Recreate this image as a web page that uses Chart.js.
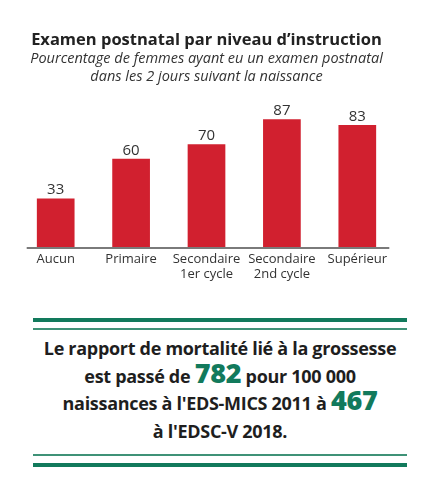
<!DOCTYPE html>
<html>
<head>
<meta charset="utf-8">
<script src="https://cdn.jsdelivr.net/npm/chart.js@4"></script>
<style>
  body { margin: 0; background: #fff; width: 437px; height: 495px; font-family: "Open Sans", sans-serif; }
  #wrap { position: absolute; left: 0; top: 30px; width: 437px; height: 257px; }
  .box { position: absolute; left: 33px; width: 374px; top: 318px; }
  .ligne { height: 4px; background: #127a5c; }
  .fine { height: 2px; background: #3f9277; }
  .texte { text-align: center; font-weight: bold; color: #1e1e1e; font-size: 18px; line-height: 27.5px; letter-spacing: -0.3px; padding: 5px 0 9px; white-space: nowrap; margin: 0 -20px; }
  .texte b { color: #127a5c; font-size: 27px; line-height: 1px; }
</style>
</head>
<body>
<div id="wrap"><canvas id="graphique"></canvas></div>
<div class="box">
  <div class="ligne"></div>
  <div class="fine" style="margin-top:6px"></div>
  <div class="texte">Le rapport de mortalité lié à la grossesse<br>est passé de <b>782</b> pour 100 000<br>naissances à l'EDS-MICS 2011 à <b>467</b><br>à l'EDSC-V 2018.</div>
  <div class="fine"></div>
  <div class="ligne" style="margin-top:7px"></div>
</div>
<script>
const niveaux = ['Aucun', 'Primaire', ['Secondaire', '1er cycle'], ['Secondaire', '2nd cycle'], 'Supérieur'];
const pourcentages = [33, 60, 70, 87, 83];
const titre = 'Examen postnatal par niveau d\u2019instruction';
const sousTitre = ['Pourcentage de femmes ayant eu un examen postnatal', 'dans les 2 jours suivant la naissance'];

// valeurs au-dessus des barres + ligne de base grise
const etiquettes = {
  id: 'etiquettes',
  afterDatasetsDraw(chart) {
    const ctx = chart.ctx;
    const meta = chart.getDatasetMeta(0);
    ctx.save();
    ctx.fillStyle = '#333';
    ctx.font = '15px "Open Sans"';
    ctx.textAlign = 'center';
    ctx.textBaseline = 'bottom';
    meta.data.forEach((bar, i) => {
      ctx.fillText(pourcentages[i], bar.x, bar.y - 1);
    });
    const x = chart.scales.x;
    const y0 = chart.scales.y.getPixelForValue(0);
    ctx.strokeStyle = '#7a7a7a';
    ctx.lineWidth = 2;
    ctx.beginPath();
    ctx.moveTo(x.getPixelForValue(0) - 29, y0 + 1);
    ctx.lineTo(x.getPixelForValue(4) + 32, y0 + 1);
    ctx.stroke();
    ctx.restore();
  }
};

new Chart(document.getElementById('graphique'), {
  type: 'bar',
  data: {
    labels: niveaux,
    datasets: [{
      data: pourcentages,
      backgroundColor: '#d1202f',
      barPercentage: 0.5,
      categoryPercentage: 1
    }]
  },
  options: {
    responsive: true,
    maintainAspectRatio: false,
    animation: false,
    layout: { padding: { left: 18, right: 42, top: 0, bottom: 0 } },
    plugins: {
      legend: { display: false },
      tooltip: { enabled: false },
      title: {
        display: true,
        text: titre,
        color: '#222',
        font: { family: 'Open Sans', size: 16.5, weight: 'bold' },
        padding: { top: 0, bottom: 0 }
      },
      subtitle: {
        display: true,
        text: sousTitre,
        color: '#333',
        font: { family: 'Open Sans', size: 14.5, style: 'italic', lineHeight: 1.25 },
        padding: { top: 0, bottom: 14 }
      }
    },
    scales: {
      x: {
        grid: { display: false, drawTicks: false },
        border: { display: false },
        ticks: { color: '#333', font: { family: 'Open Sans', size: 13, lineHeight: 1.15 }, padding: 5, maxRotation: 0 }
      },
      y: {
        display: false,
        min: 0,
        max: 100
      }
    }
  },
  plugins: [etiquettes]
});
</script>
</body>
</html>
